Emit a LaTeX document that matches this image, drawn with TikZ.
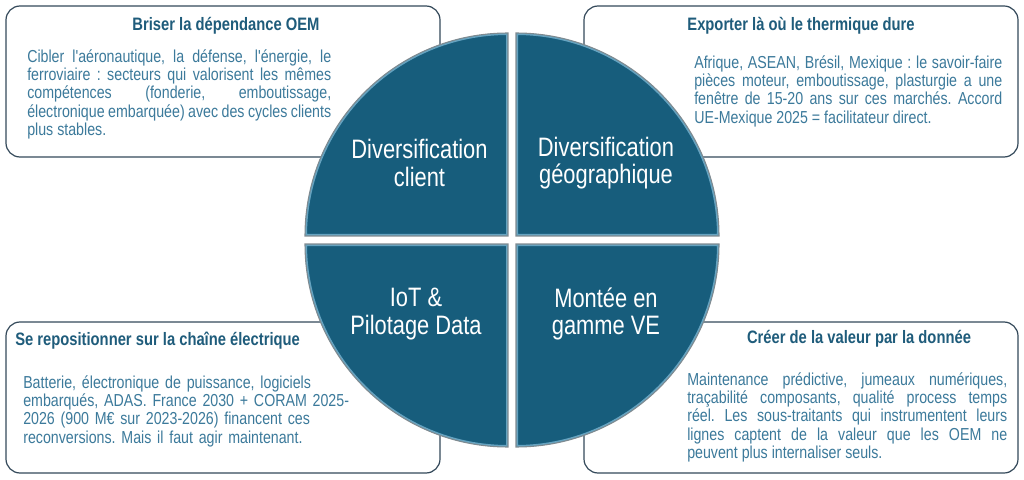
\documentclass[tikz,border=0pt]{standalone}
\usepackage{fontspec}
\newfontfamily\narrowfont{Liberation Sans}[FakeStretch=0.82]
\usetikzlibrary{positioning}

\definecolor{quadfill}{HTML}{175D7C}
\definecolor{quadedge}{HTML}{7F8A90}
\definecolor{bevelblue}{HTML}{9AD2EE}
\definecolor{boxline}{HTML}{34495A}
\definecolor{titleblue}{HTML}{1F5C7B}
\definecolor{bodyblue}{HTML}{3C7A9B}
\hyphenpenalty=10000
\exhyphenpenalty=10000
\frenchspacing

\begin{document}
\begin{tikzpicture}[x=0.75pt,y=0.75pt]
                \tikzstyle{infobox} = [rectangle, rounded corners=10.5pt, minimum width=325.5pt, minimum height=113.25pt, draw=boxline, line width=0.9pt, fill=white]
                \tikzstyle{boxtitle} = [inner sep=0pt, text=titleblue, font=\narrowfont\bfseries\fontsize{13.5}{14}\selectfont]
                \tikzstyle{boxtext} = [inner sep=0pt, text=bodyblue, align=justify, font=\narrowfont\fontsize{13}{13.8}\selectfont]
                \tikzstyle{quadtext} = [inner sep=0pt, text=white, align=center, font=\narrowfont\fontsize{20}{20.5}\selectfont]
                \tikzstyle{bevel} = [draw=bevelblue, line width=3pt, opacity=0.6]

                \useasboundingbox (0,0) rectangle (1024,479);

                % the four text boxes
                \node (boxTL) [infobox] at (223,397.5) {};
                \node (boxTR) [infobox] at (801,397.5) {};
                \node (boxBL) [infobox] at (223,81.5) {};
                \node (boxBR) [infobox] at (801,81.5) {};

                \node (titleTL) [boxtitle, anchor=base] at (226,448) {Briser la dépendance OEM};
                \node (titleTR) [boxtitle, anchor=base] at (801,448) {Exporter là où le thermique dure};
                \node (titleBL) [boxtitle, anchor=base west] at (15,134) {Se repositionner sur la chaîne électrique};
                \node (titleBR) [boxtitle, anchor=base] at (859,136) {Créer de la valeur par la donnée};

                \node (textTL) [boxtext, text width=228pt, anchor=north west] at (27,430) {Cibler l'aéronautique, la défense, l'énergie, le\linebreak ferroviaire~: secteurs qui valorisent les mêmes\linebreak compétences (fonderie, emboutissage,\linebreak électronique embarquée) avec des cycles clients\linebreak plus stables.};
                \node (textTR) [boxtext, text width=231pt, anchor=north west] at (694,424) {Afrique, ASEAN, Brésil, Mexique~: le savoir-faire\linebreak pièces moteur, emboutissage, plasturgie a une\linebreak fenêtre de 15-20 ans sur ces marchés. Accord\linebreak UE-Mexique 2025 = facilitateur direct.};
                \node (textBL) [boxtext, align=left, text width=245pt, anchor=north west] at (23,104) {Batterie, électronique de puissance, logiciels\\ embarqués, ADAS. France 2030 + CORAM 2025-\\ 2026 (900 M€ sur 2023-2026) financent ces\\ reconversions. Mais il faut agir maintenant.};
                \node (textBR) [boxtext, text width=240pt, anchor=north west] at (687,107) {Maintenance prédictive, jumeaux numériques,\linebreak traçabilité composants, qualité process temps\linebreak réel. Les sous-traitants qui instrumentent leurs\linebreak lignes captent de la valeur que les OEM ne\linebreak peuvent plus internaliser seuls.};

                % the circle in four quarters
                \foreach \cx/\cy/\a in {508/243/180, 516/243/90, 516/235/0, 508/235/270} {
                    \begin{scope}
                        \clip (\cx,\cy) -- ++(\a:152.25pt) arc (\a:\a-90:152.25pt) -- cycle;
                        \fill [quadfill] (\cx,\cy) -- ++(\a:152.25pt) arc (\a:\a-90:152.25pt) -- cycle;
                        \draw [bevel] (\cx,\cy) -- ++(\a:152.25pt) arc (\a:\a-90:152.25pt) -- cycle;
                    \end{scope}
                    \draw [quadedge, line width=0.8pt] (\cx,\cy) -- ++(\a:152.25pt) arc (\a:\a-90:152.25pt) -- cycle;
                }

                \node (quadTL) [quadtext] at (419.5,316) {Diversification\\client};
                \node (quadTR) [quadtext] at (606,316) {Diversification\\géographique};
                \node (quadBL) [quadtext] at (416,165) {IoT \&\\Pilotage Data};
                \node (quadBR) [quadtext] at (606,165) {Montée en\\gamme VE};
            \end{tikzpicture}
\end{document}
